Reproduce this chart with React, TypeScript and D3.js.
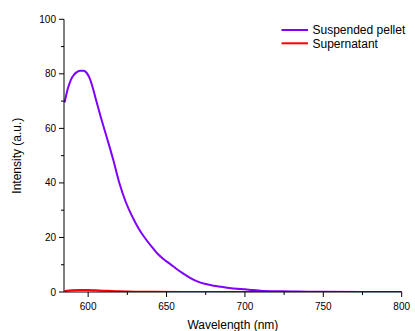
import React from "react";
import * as d3 from "d3";

const wavelengths = [585, 587, 589, 591, 593, 595, 597, 599, 601, 603, 605, 608, 612, 616, 620, 624, 628, 632, 636, 640, 644, 648, 652, 656, 660, 665, 670, 675, 680, 685, 690, 695, 700, 705, 710, 720, 730, 740, 750, 775, 800];
const pelletValues = [69.5, 74.5, 77.8, 79.7, 80.7, 81.1, 81.1, 80.4, 78.3, 74.8, 70.5, 64.3, 56.5, 48.5, 39.8, 33.0, 27.8, 23.5, 20.0, 17.0, 14.2, 12.1, 10.4, 8.6, 7.0, 5.2, 3.8, 2.9, 2.3, 1.9, 1.5, 1.2, 1.0, 0.7, 0.5, 0.3, 0.2, 0.1, 0.05, 0, 0];

const redWavelengths = [585, 590, 595, 600, 605, 610, 615, 620, 630, 640, 660, 700, 750, 800];
const supernatantValues = [0.4, 0.6, 0.7, 0.7, 0.6, 0.5, 0.35, 0.25, 0.1, 0.05, 0, 0, 0, 0];

const xTicks = [600, 650, 700, 750, 800];
const xMinorTicks = [625, 675, 725, 775];
const yTicks = [0, 20, 40, 60, 80, 100];
const yMinorTicks = [10, 30, 50, 70, 90];

const seriesNames = ["Suspended pellet", "Supernatant"];
const seriesColors = ["#7F00FF", "#FF0000"];

const W = 415, H = 331;
const left = 64, right = 401.7, top = 19.3, bottom = 292;
const font = "Arial, 'Liberation Sans', sans-serif";

export default function App() {
  const x = d3.scaleLinear().domain([584.6, 800]).range([left, right]);
  const y = d3.scaleLinear().domain([0, 100]).range([bottom, top]);
  const line = d3.line<[number, number]>().x(d => x(d[0])).y(d => y(d[1])).curve(d3.curveMonotoneX);
  const pellet = line(wavelengths.map((w, i) => [w, pelletValues[i]] as [number, number])) || "";
  const sup = line(redWavelengths.map((w, i) => [w, supernatantValues[i]] as [number, number])) || "";

  return (
    <svg width={W} height={H} style={{ position: "absolute", left: 0, top: 0, background: "#fff" }} fontFamily={font}>
      <defs>
        <clipPath id="plot">
          <rect x={left} y={top - 2} width={right - left} height={bottom - top + 2} />
        </clipPath>
      </defs>
      <g clipPath="url(#plot)">
        <path d={sup} fill="none" stroke={seriesColors[1]} strokeWidth={2} />
        <path d={pellet} fill="none" stroke={seriesColors[0]} strokeWidth={2} />
      </g>
      {/* axes */}
      <line x1={left} x2={left} y1={top} y2={bottom} stroke="#000" strokeWidth={1} />
      <line x1={left} x2={right} y1={bottom} y2={bottom} stroke="#000" strokeWidth={1} />
      {yTicks.map(t => (
        <g key={"y" + t}>
          <line x1={left - 5} x2={left} y1={y(t)} y2={y(t)} stroke="#000" />
          <text x={left - 8} y={y(t)} dy="0.35em" textAnchor="end" fontSize={10} fill="#000">{t}</text>
        </g>
      ))}
      {yMinorTicks.map(t => (
        <line key={"ym" + t} x1={left - 3} x2={left} y1={y(t)} y2={y(t)} stroke="#000" />
      ))}
      {xTicks.map(t => (
        <g key={"x" + t}>
          <line x1={x(t)} x2={x(t)} y1={bottom} y2={bottom + 5} stroke="#000" />
          <text x={x(t)} y={bottom + 18} textAnchor="middle" fontSize={10} fill="#000">{t}</text>
        </g>
      ))}
      {xMinorTicks.map(t => (
        <line key={"xm" + t} x1={x(t)} x2={x(t)} y1={bottom} y2={bottom + 3} stroke="#000" />
      ))}
      <text x={(left + right) / 2} y={329} textAnchor="middle" fontSize={12} fill="#000">Wavelength (nm)</text>
      <text transform={`translate(21,${(top + bottom) / 2}) rotate(-90)`} textAnchor="middle" fontSize={12} fill="#000">Intensity (a.u.)</text>
      {/* legend */}
      {seriesNames.map((n, i) => (
        <g key={n} transform={`translate(0,${30 + i * 13.3})`}>
          <line x1={281.5} x2={308} y1={0} y2={0} stroke={seriesColors[i]} strokeWidth={2} />
          <text x={312.5} y={0} dy="0.35em" fontSize={12} fill="#000">{n}</text>
        </g>
      ))}
    </svg>
  );
}
